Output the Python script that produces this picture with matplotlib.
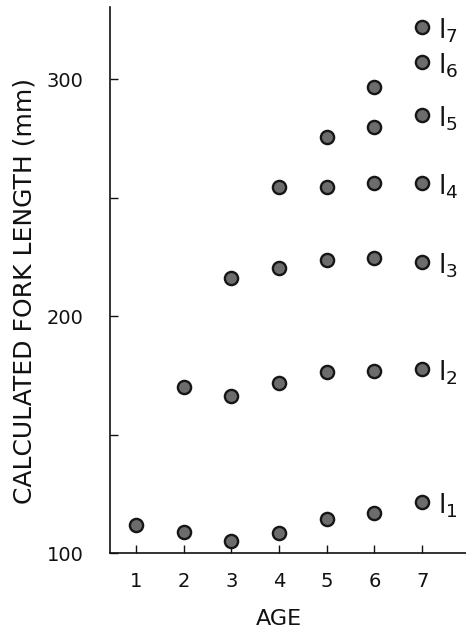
import numpy as np
import matplotlib
matplotlib.use("Agg")
import matplotlib.pyplot as plt

# calculated fork length (mm) at each age, for each back-calculated length l1..l7
l1_ages = [1, 2, 3, 4, 5, 6, 7]
l1 = [111.8, 108.7, 105.2, 108.3, 114.3, 116.9, 121.5]
l2_ages = [2, 3, 4, 5, 6, 7]
l2 = [170.2, 166.4, 171.6, 176.4, 176.8, 177.6]
l3_ages = [3, 4, 5, 6, 7]
l3 = [215.9, 220.1, 223.6, 224.6, 222.9]
l4_ages = [4, 5, 6, 7]
l4 = [254.4, 254.5, 256.3, 256.1]
l5_ages = [5, 6, 7]
l5 = [275.5, 279.7, 284.8]
l6_ages = [6, 7]
l6 = [296.6, 307.0]
l7_ages = [7]
l7 = [322.0]

series = [(l1_ages, l1, "1"), (l2_ages, l2, "2"), (l3_ages, l3, "3"),
          (l4_ages, l4, "4"), (l5_ages, l5, "5"), (l6_ages, l6, "6"),
          (l7_ages, l7, "7")]

fig = plt.figure(figsize=(4.66, 6.28), dpi=100)
ax = fig.add_axes([0.236, 0.1194, 0.764, 0.8695])

for ages, vals, sub in series:
    ax.plot(ages, vals, "o", ms=9.5, mfc="#6c6c6c", mec="#161616", mew=1.7)
    ax.text(7.33, vals[-1] - 1.5, r"$\mathregular{l_{%s}}$" % sub,
            fontsize=19, ha="left", va="center", color="#111")

ax.set_xlim(0.455, 7.92)
ax.set_ylim(100, 330.4)
ax.set_xticks(range(1, 8))
ax.set_xticklabels([str(a) for a in range(1, 8)])
ax.set_yticks([100, 200, 300])
ax.set_yticks([150, 250], minor=True)

for s in ["top", "right"]:
    ax.spines[s].set_visible(False)
for s in ["left", "bottom"]:
    ax.spines[s].set_linewidth(1.2)
    ax.spines[s].set_color("#111")

ax.tick_params(axis="both", which="both", direction="in", length=6, width=1,
               color="#111", labelsize=14, labelcolor="#111")
ax.tick_params(axis="y", which="major", pad=19)
ax.tick_params(axis="x", which="major", pad=14)

ax.set_ylabel("CALCULATED FORK LENGTH (mm)", fontsize=18, color="#111")
ax.yaxis.set_label_coords(-0.205, 0.48)
ax.set_xlabel("AGE", fontsize=16, color="#111")
ax.xaxis.set_label_coords(0.475, -0.103)

fig.savefig("out.png", dpi=100)
